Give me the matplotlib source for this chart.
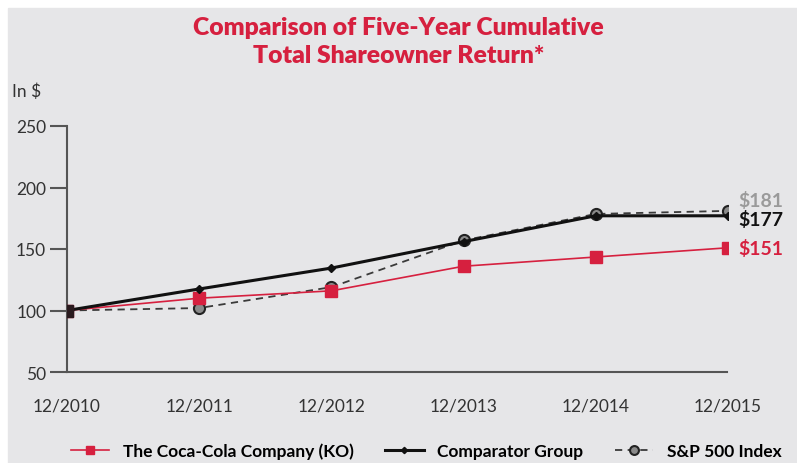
import matplotlib.pyplot as plt
import matplotlib.patches as mpatches

plt.rcParams['font.family'] = ['Lato', 'DejaVu Sans']

years = ["12/2010", "12/2011", "12/2012", "12/2013", "12/2014", "12/2015"]
ko = [100, 110, 116, 136, 143.5, 151]
comparator = [100, 117.5, 134.5, 156, 177, 177]
sp500 = [100, 102, 119, 157, 178.5, 181]
yticks = [50, 100, 150, 200, 250]

red = "#d6203f"
bg = "#e6e6e8"

fig = plt.figure(figsize=(7.97, 4.64), dpi=100)
fig.patch.set_facecolor("white")
# gray panel behind everything
fig.patches.append(mpatches.Rectangle((8 / 797, 0), 1, 1 - 9 / 464,
                                      transform=fig.transFigure, color=bg, zorder=-10))

ax = fig.add_axes([67 / 797, 1 - 373 / 464, (728 - 67) / 797, (373 - 127) / 464])
ax.set_facecolor("none")

x = list(range(len(years)))
ax.plot(x, sp500, color="#3a3a3a", lw=1.3, ls=(0, (4, 3)), marker="o", ms=8,
        mfc="#8a8a8a", mec="#222222", mew=1.5, label="S&P 500 Index", zorder=3)
ax.plot(x, ko, color=red, lw=1.2, marker="s", ms=8, mfc=red, mec=red,
        label="The Coca-Cola Company (KO)", zorder=4)
ax.plot(x, comparator, color="#111111", lw=2.2, marker="D", ms=4,
        label="Comparator Group", zorder=5)
# first point drawn dark as in the original
ax.plot(x[:1], comparator[:1], ls="none", marker="s", ms=8, color="#2a1a1e", zorder=6)

ax.set_xlim(0, 5)
ax.set_ylim(50, 250)
ax.set_yticks(yticks)
ax.set_xticks(x)
ax.set_xticklabels(years)
ax.tick_params(axis="x", length=0, pad=18, labelsize=12.5, colors="#333333")
ax.tick_params(axis="y", length=12, width=1.5, pad=3, labelsize=12.5,
               colors="#333333", color="#555555")
for s in ["top", "right"]:
    ax.spines[s].set_visible(False)
for s in ["left", "bottom"]:
    ax.spines[s].set_color("#555555")
    ax.spines[s].set_linewidth(1.5)
ax.spines["bottom"].set_bounds(0, 4.99)

# end labels
ax.text(5.08, sp500[-1] + 9, "$%d" % sp500[-1], color="#9a9a9a", fontsize=14,
        fontweight="bold", va="center", clip_on=False)
ax.text(5.08, comparator[-1] - 3, "$%d" % comparator[-1], color="#111111", fontsize=14,
        fontweight="bold", va="center", clip_on=False)
ax.text(5.08, ko[-1], "$%d" % ko[-1], color=red, fontsize=14,
        fontweight="bold", va="center", clip_on=False)

fig.text(12 / 797, 1 - 92 / 464, "In $", fontsize=12.5, color="#333333", va="center")
fig.text(0.5, 1 - 42 / 464, "Comparison of Five-Year Cumulative\nTotal Shareowner Return*",
         color=red, fontsize=17.8, fontweight="heavy", ha="center", va="center",
         linespacing=1.35)

handles, labels = ax.get_legend_handles_labels()
order = [1, 2, 0]
fig.legend([handles[i] for i in order], [labels[i] for i in order],
           loc="center", bbox_to_anchor=(0.535, 1 - 452 / 464), ncol=3, frameon=False,
           prop={"size": 12.5, "weight": "bold"}, handlelength=2.2, columnspacing=1.8,
           markerscale=0.8)

fig.savefig("out.png", dpi=100)
